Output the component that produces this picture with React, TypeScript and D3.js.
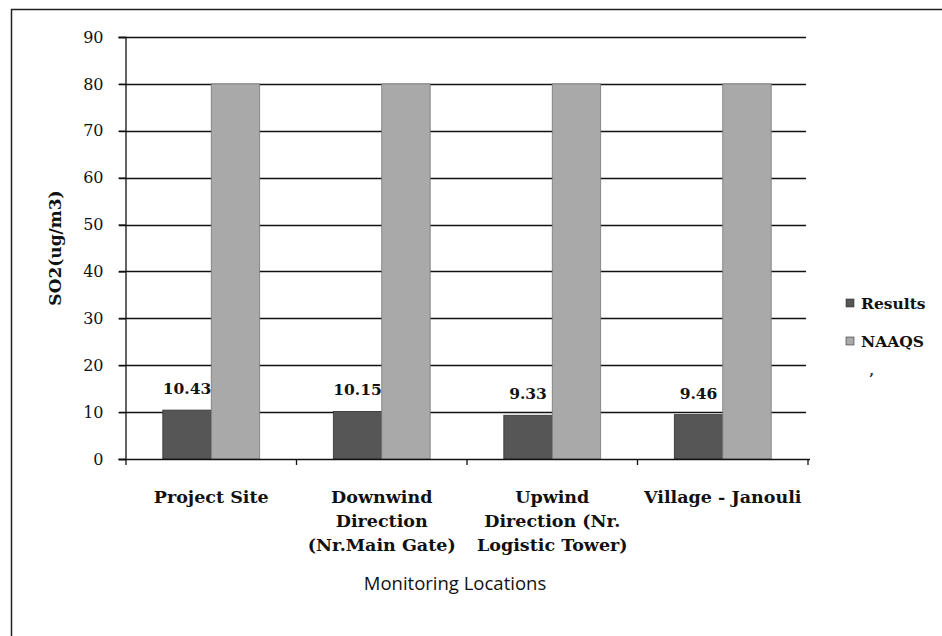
import React, { useEffect, useRef } from 'react';
import * as d3 from 'd3';

const categories = [
  ['Project Site'],
  ['Downwind', 'Direction', '(Nr.Main Gate)'],
  ['Upwind', 'Direction (Nr.', 'Logistic Tower)'],
  ['Village - Janouli'],
];
const seriesNames = ['Results', 'NAAQS'];
const results = [10.43, 10.15, 9.33, 9.46];
const naaqs = [80, 80, 80, 80];
const yTicks = [0, 10, 20, 30, 40, 50, 60, 70, 80, 90];

const W = 942;
const H = 636;
const serif = '"DejaVu Serif", "Liberation Serif", serif';

const App = () => {
  const ref = useRef<SVGSVGElement>(null);

  useEffect(() => {
    const svg = d3.select(ref.current);
    svg.selectAll('*').remove();

    const left = 126;
    const right = 808;
    const top = 37;
    const bottom = 459;

    const keys = categories.map((c) => c.join(' '));
    const x0 = d3.scaleBand().domain(keys).range([left, right]).paddingInner(0).paddingOuter(0);
    const x1 = d3.scaleBand().domain(seriesNames).range([0, x0.bandwidth()]).paddingInner(0).paddingOuter(0.76);
    const y = d3.scaleLinear().domain([0, 90]).range([bottom, top]);
    const color = d3.scaleOrdinal<string, string>().domain(seriesNames).range(['#565656', '#a9a9a9']);

    // outer frame (only top & left visible in the scan)
    svg.append('line').attr('x1', 11).attr('x2', W).attr('y1', 9.5).attr('y2', 9.5).attr('stroke', '#222').attr('stroke-width', 1.5);
    svg.append('line').attr('x1', 11.5).attr('x2', 11.5).attr('y1', 9).attr('y2', H).attr('stroke', '#222').attr('stroke-width', 1.5);

    // gridlines
    svg.append('g')
      .selectAll('line')
      .data(yTicks.filter((t) => t > 0))
      .enter()
      .append('line')
      .attr('x1', left - 7)
      .attr('x2', right - 2)
      .attr('y1', (d) => Math.round(y(d)) + 0.5)
      .attr('y2', (d) => Math.round(y(d)) + 0.5)
      .attr('stroke', '#111')
      .attr('stroke-width', 1.3);

    // bars
    const rows = keys.map((k, i) => ({ key: k, values: [results[i], naaqs[i]] }));
    const groups = svg.append('g')
      .selectAll('g')
      .data(rows)
      .enter()
      .append('g')
      .attr('transform', (d) => `translate(${x0(d.key)},0)`);

    groups.selectAll('rect')
      .data((d) => d.values.map((v, j) => ({ name: seriesNames[j], v })))
      .enter()
      .append('rect')
      .attr('x', (d) => x1(d.name) as number)
      .attr('y', (d) => y(d.v))
      .attr('width', x1.bandwidth())
      .attr('height', (d) => y(0) - y(d.v))
      .attr('fill', (d) => color(d.name))
      .attr('stroke', (d) => (d.name === 'Results' ? '#333' : '#777'))
      .attr('stroke-width', 0.8);

    // data labels on Results
    groups.append('text')
      .attr('x', (d) => (x1('Results') as number) + x1.bandwidth() / 2)
      .attr('y', (d) => y(d.values[0]) - 16)
      .attr('text-anchor', 'middle')
      .attr('font-family', serif)
      .attr('font-weight', 'bold')
      .attr('font-size', 15.5)
      .attr('fill', '#111')
      .text((d) => d.values[0].toFixed(2));

    // y axis
    const yAxis = d3.axisLeft(y).tickValues(yTicks).tickSize(7).tickPadding(15).tickFormat((d) => String(d));
    const ya = svg.append('g').attr('transform', `translate(${left - 0.5},0)`).call(yAxis);
    ya.attr('font-family', serif).attr('font-size', 16);
    ya.select('.domain').attr('stroke', '#111').attr('stroke-width', 1.3);
    ya.selectAll('.tick line').attr('stroke', '#111').attr('stroke-width', 1.3);
    ya.selectAll('.tick text')
      .attr('font-family', serif)
      .attr('font-size', 16)
      .attr('fill', '#111');

    // x axis
    svg.append('line')
      .attr('x1', left - 7).attr('x2', right + 2)
      .attr('y1', bottom + 0.5).attr('y2', bottom + 0.5)
      .attr('stroke', '#111').attr('stroke-width', 1.3);
    const bounds = keys.map((k) => x0(k) as number).concat([right]);
    svg.append('g')
      .selectAll('line')
      .data(bounds)
      .enter()
      .append('line')
      .attr('x1', (d) => d).attr('x2', (d) => d)
      .attr('y1', bottom).attr('y2', bottom + 6)
      .attr('stroke', '#111').attr('stroke-width', 1.3);

    // category labels
    const labels = svg.append('g')
      .selectAll('text')
      .data(categories)
      .enter()
      .append('text')
      .attr('x', (d) => (x0(d.join(' ')) as number) + x0.bandwidth() / 2)
      .attr('y', 503)
      .attr('text-anchor', 'middle')
      .attr('font-family', serif)
      .attr('font-weight', 'bold')
      .attr('font-size', 17.5)
      .attr('fill', '#111');
    labels.selectAll('tspan')
      .data((d) => d)
      .enter()
      .append('tspan')
      .attr('x', function () {
        return (this.parentNode as SVGTextElement).getAttribute('x');
      })
      .attr('dy', (_d, i) => (i === 0 ? 0 : 24))
      .text((d) => d);

    // axis titles
    svg.append('text')
      .attr('transform', `translate(61,248) rotate(-90)`)
      .attr('text-anchor', 'middle')
      .attr('font-family', serif)
      .attr('font-weight', 'bold')
      .attr('font-size', 17)
      .attr('fill', '#111')
      .text('SO2(ug/m3)');

    svg.append('text')
      .attr('x', 455)
      .attr('y', 590)
      .attr('text-anchor', 'middle')
      .attr('font-family', '"Open Sans", "Noto Sans", sans-serif')
      .attr('font-size', 18.5)
      .attr('fill', '#111')
      .text('Monitoring Locations');

    // legend
    const lg = svg.append('g')
      .selectAll('g')
      .data(seriesNames)
      .enter()
      .append('g')
      .attr('transform', (_d, i) => `translate(846,${299 + i * 38})`);
    lg.append('rect')
      .attr('width', 8).attr('height', 8)
      .attr('fill', (d) => color(d))
      .attr('stroke', '#333').attr('stroke-width', 0.6);
    lg.append('text')
      .attr('x', 15)
      .attr('y', 10)
      .attr('font-family', serif)
      .attr('font-weight', 'bold')
      .attr('font-size', 15.5)
      .attr('fill', '#111')
      .text((d) => d);

    // stray mark in the scan
    svg.append('text')
      .attr('x', 869)
      .attr('y', 384)
      .attr('font-family', serif)
      .attr('font-weight', 'bold')
      .attr('font-size', 14)
      .attr('fill', '#222')
      .text('\u2019');
  }, []);

  return (
    <svg
      ref={ref}
      width={W}
      height={H}
      style={{ position: 'absolute', left: 0, top: 0, background: '#fff' }}
    />
  );
};

export default App;
